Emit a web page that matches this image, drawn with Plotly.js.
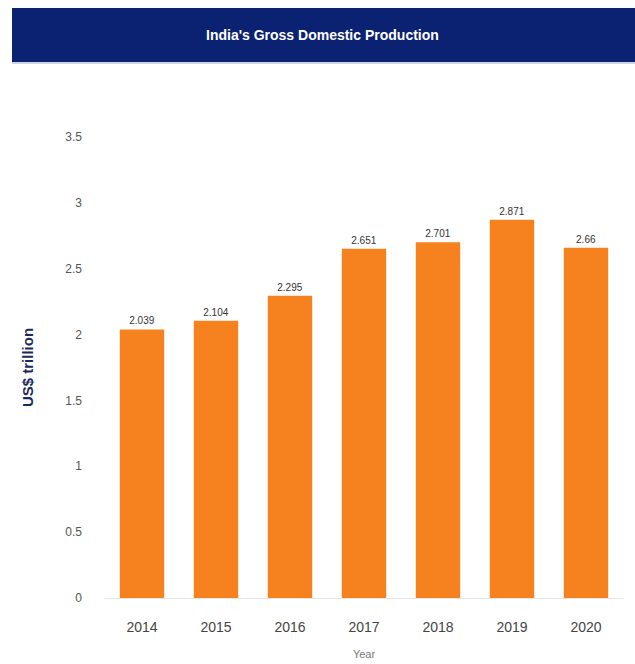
<!DOCTYPE html>
<html><head><meta charset="utf-8">
<script src="https://cdn.plot.ly/plotly-3.0.1.min.js"></script>
<style>body{margin:0;padding:0;background:#fff}#chart{width:635px;height:664px}</style>
</head><body><div id="chart"></div>
<script>
const years = ['2014','2015','2016','2017','2018','2019','2020'];
const gdp = [2.039, 2.104, 2.295, 2.651, 2.701, 2.871, 2.66];
const gdpLabels = ['2.039','2.104','2.295','2.651','2.701','2.871','2.66'];
const yTicks = [0, 0.5, 1, 1.5, 2, 2.5, 3, 3.5];

const W = 635, H = 664, mL = 105, mR = 12, mT = 137, mB = 66;
const pw = W - mL - mR, ph = H - mT - mB;
const px = v => (v - mL) / pw;
const py = v => (H - mB - v) / ph;

Plotly.newPlot('chart', [{
  type: 'bar', x: years, y: gdp,
  marker: {color: '#F5821F'},
  text: gdpLabels, textposition: 'outside', cliponaxis: false,
  textfont: {family: 'Liberation Sans, Arial', size: 10, color: '#333'},
  hoverinfo: 'none'
}], {
  width: W, height: H,
  margin: {l: mL, r: mR, t: mT, b: mB},
  paper_bgcolor: '#fff', plot_bgcolor: '#fff',
  bargap: 0.4, showlegend: false,
  xaxis: {type: 'category', showgrid: false, showline: true, linecolor: '#e6e6e6', ticks: '',
    ticklabelstandoff: 16,
    tickfont: {family: 'Liberation Sans, Arial', size: 14, color: '#444'},
    title: {text: 'Year', font: {family: 'Liberation Sans, Arial', size: 11, color: '#777'}, standoff: 16}},
  yaxis: {range: [0, 3.5], tickvals: yTicks, ticktext: yTicks.map(String), showgrid: false, zeroline: false,
    showline: false, ticks: '', ticklabelstandoff: 22,
    tickfont: {family: 'Liberation Sans, Arial', size: 12, color: '#555'},
    title: {text: '<b>US$ trillion</b>', font: {family: 'Liberation Sans, Arial', size: 15, color: '#1a2a5e'}, standoff: 28}},
  shapes: [
    {type: 'rect', xref: 'paper', yref: 'paper', x0: px(12), x1: px(640), y0: py(62), y1: py(8),
     fillcolor: '#0B2172', line: {width: 0}, layer: 'below'},
    {type: 'line', xref: 'paper', yref: 'paper', x0: px(12), x1: px(640), y0: py(63), y1: py(63),
     line: {color: '#b8c8d8', width: 1.5}}
  ],
  annotations: [
    {xref: 'paper', yref: 'paper', x: px(322), y: py(35), text: "<b>India's Gross Domestic Production</b>",
     showarrow: false, xanchor: 'center', yanchor: 'middle',
     font: {family: 'Liberation Sans, Arial', size: 14, color: '#ffffff'}}
  ]
}, {displayModeBar: false, staticPlot: true});
</script></body></html>
